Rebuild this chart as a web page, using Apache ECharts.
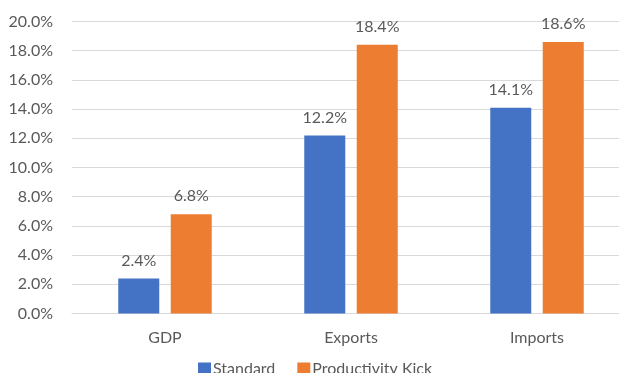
<!DOCTYPE html>
<html>
<head>
<meta charset="utf-8">
<script src="https://cdn.jsdelivr.net/npm/echarts@6/dist/echarts.min.js"></script>
<style>
html,body{margin:0;padding:0;background:#fff;overflow:hidden;width:619px;height:373px;}
#c{width:630px;height:373px;}
</style>
</head>
<body>
<div id="c"></div>
<script>
const categories = ['GDP', 'Exports', 'Imports'];
const standard = [2.4, 12.2, 14.1];
const productivityKick = [6.8, 18.4, 18.6];
const yTicks = { min: 0, max: 20, interval: 2 };

const FONT = 'Lato, "Open Sans", sans-serif';
const TXT = '#595959';
const chart = echarts.init(document.getElementById('c'), null, { renderer: 'canvas' });
const labelCfg = {
  show: true, position: 'top', distance: 10,
  color: TXT, fontFamily: FONT, fontSize: 16,
  formatter: p => p.value.toFixed(1) + '%'
};
chart.setOption({
  animation: false,
  backgroundColor: '#fff',
  grid: { left: 72, top: 21.5, right: 0, height: 292, containLabel: false },
  legend: {
    data: ['Standard', 'Productivity Kick'],
    left: 193, top: 356,
    itemWidth: 13, itemHeight: 13, itemGap: 22,
    icon: 'rect',
    textStyle: { color: TXT, fontFamily: FONT, fontSize: 16, padding: [0, 0, 0, -3] }
  },
  xAxis: {
    type: 'category', data: categories,
    axisLine: { lineStyle: { color: '#d9d9d9', width: 1 } },
    axisTick: { show: false },
    axisLabel: { color: TXT, fontFamily: FONT, fontSize: 16, margin: 16 }
  },
  yAxis: {
    type: 'value', min: yTicks.min, max: yTicks.max, interval: yTicks.interval,
    axisLine: { show: false }, axisTick: { show: false },
    splitLine: { lineStyle: { color: '#d9d9d9', width: 1 } },
    axisLabel: { color: TXT, fontFamily: FONT, fontSize: 16, margin: 19,
      formatter: v => v.toFixed(1) + '%' }
  },
  series: [
    { name: 'Standard', type: 'bar', data: standard, barWidth: 41, barGap: '28%',
      itemStyle: { color: '#4472C4' }, label: labelCfg },
    { name: 'Productivity Kick', type: 'bar', data: productivityKick, barWidth: 41,
      itemStyle: { color: '#ED7D31' }, label: labelCfg }
  ]
});
</script>
</body>
</html>
